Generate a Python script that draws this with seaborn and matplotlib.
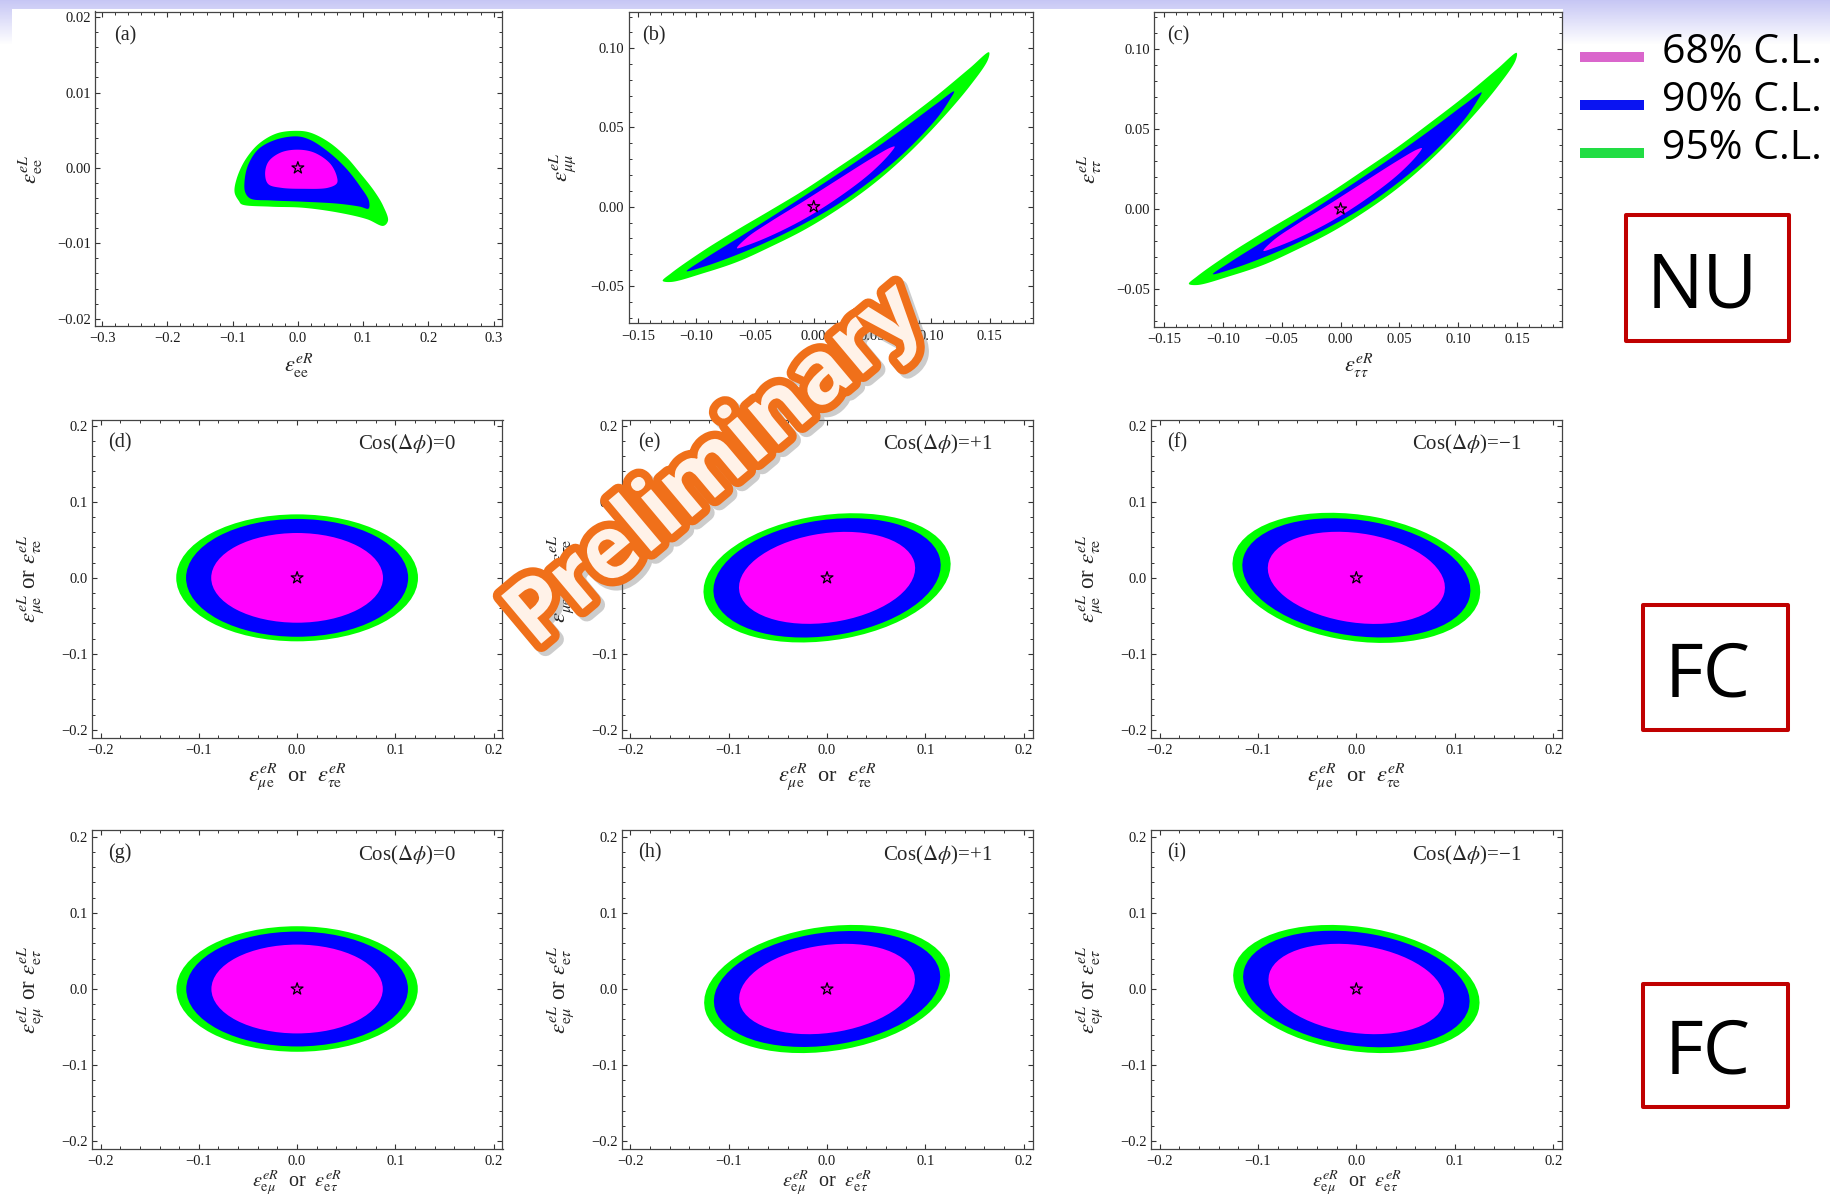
import numpy as np
import matplotlib
matplotlib.use("Agg")
import matplotlib.pyplot as plt
import matplotlib.patheffects as pe
from matplotlib.patches import Ellipse, Rectangle
from matplotlib.ticker import MultipleLocator
import seaborn as sns

W, H = 1831, 1201

# ---------------------------------------------------------------- data
cl_labels = ["68% C.L.", "90% C.L.", "95% C.L."]
legend_swatch = ["#DA66CC", "#0A14F2", "#22DD44"]
# fills, outermost region first
region_colors = ["#00FF00", "#0000FF", "#FF00FF"]

# (a) NU: eps_ee^eR vs eps_ee^eL, closed region boundaries
ee95_x = [-0.0859, -0.0420, 0.0074, 0.0623, 0.1062, 0.1309, 0.1381, 0.1309, 0.1172, 0.0952,
          0.0733, 0.0458, 0.0184, -0.0008, -0.0310, -0.0585, -0.0804, -0.0942, -0.0969, -0.0903]
ee95_y = [-0.00484, -0.00514, -0.00528, -0.00593, -0.00681, -0.00769, -0.00703, -0.00506, -0.00308, -0.00066,
          0.00154, 0.00352, 0.00470, 0.00492, 0.00462, 0.00330, 0.00110, -0.00154, -0.00330, -0.00440]
ee90_x = [-0.0008, -0.0310, -0.0585, -0.0749, -0.0815, -0.0804, -0.0722, -0.0420, 0.0074, 0.0623,
          0.0952, 0.1079, 0.1090, 0.0952, 0.0733, 0.0458, 0.0184]
ee90_y = [0.00418, 0.00382, 0.00264, 0.00066, -0.00154, -0.00330, -0.00409, -0.00431, -0.00448, -0.00475,
          -0.00514, -0.00541, -0.00440, -0.00242, 0.00000, 0.00220, 0.00374]
ee68_x = [-0.0008, -0.0255, -0.0447, -0.0502, -0.0447, -0.0255, 0.0074, 0.0458, 0.0596, 0.0596, 0.0486, 0.0239]
ee68_y = [0.00242, 0.00207, 0.00088, -0.00088, -0.00220, -0.00264, -0.00277, -0.00264, -0.00207, -0.00110,
          0.00066, 0.00207]

# (b), (c) NU: eps_mumu / eps_tautau, the two fits coincide
mm95_x = [-0.1288, -0.1217, -0.0934, -0.0651, -0.0368, -0.0085, 0.0198, 0.0481, 0.0764, 0.1047, 0.1330, 0.1494,
          0.1486, 0.1330, 0.1047, 0.0764, 0.0481, 0.0198, -0.0085, -0.0368, -0.0651, -0.0934, -0.1217]
mm95_y = [-0.0468, -0.0420, -0.0274, -0.0145, -0.0022, 0.0104, 0.0243, 0.0385, 0.0540, 0.0700, 0.0874, 0.0975,
          0.0928, 0.0760, 0.0517, 0.0306, 0.0127, -0.0021, -0.0148, -0.0253, -0.0348, -0.0418, -0.0475]
mm90_x = [-0.1084, -0.0934, -0.0651, -0.0368, -0.0085, 0.0198, 0.0481, 0.0764, 0.1047, 0.1197,
          0.1160, 0.1047, 0.0764, 0.0481, 0.0198, -0.0085, -0.0368, -0.0651, -0.0934]
mm90_y = [-0.0407, -0.0330, -0.0200, -0.0068, 0.0066, 0.0203, 0.0345, 0.0494, 0.0650, 0.0728,
          0.0675, 0.0555, 0.0335, 0.0160, 0.0012, -0.0108, -0.0212, -0.0302, -0.0378]
mm68_x = [-0.0655, -0.0566, -0.0368, -0.0085, 0.0198, 0.0481, 0.0651, 0.0690,
          0.0651, 0.0481, 0.0198, -0.0085, -0.0368, -0.0566]
mm68_y = [-0.0262, -0.0193, -0.0094, 0.0035, 0.0168, 0.0300, 0.0372, 0.0380,
          0.0336, 0.0210, 0.0052, -0.0079, -0.0184, -0.0243]

# FC fits: half extents along x and y of each region (95, 90, 68) and the x-y correlation
cos_dphi_labels = ["0", "+1", "\u22121"]
cos_corr = [0.0, 0.21, -0.21]
row2_half_x = [[0.1230, 0.1130, 0.0874], [0.1256, 0.1155, 0.0895], [0.1259, 0.1159, 0.0900]]
row2_half_y = [[0.0835, 0.0775, 0.0590], [0.0850, 0.0785, 0.0605], [0.0856, 0.0784, 0.0606]]
row3_half_x = [[0.1228, 0.1128, 0.0872], [0.1249, 0.1150, 0.0893], [0.1252, 0.1151, 0.0893]]
row3_half_y = [[0.0824, 0.0754, 0.0583], [0.0841, 0.0761, 0.0593], [0.0841, 0.0765, 0.0593]]

best_fit_x = [0.0]
best_fit_y = [0.0]

# tick values
ee_R_ticks = [-0.3, -0.2, -0.1, 0.0, 0.1, 0.2, 0.3]
ee_L_ticks = [-0.02, -0.01, 0.0, 0.01, 0.02]
diag_R_ticks = [-0.15, -0.10, -0.05, 0.0, 0.05, 0.10, 0.15]
diag_L_ticks = [-0.05, 0.0, 0.05, 0.10]
fc_ticks = [-0.2, -0.1, 0.0, 0.1, 0.2]

# ---------------------------------------------------------------- style
sns.set_theme(style="ticks")
plt.rcParams.update({
    "font.family": ["Liberation Serif", "DejaVu Serif"],
    "mathtext.fontset": "stix",
    "axes.edgecolor": "#444444",
    "axes.linewidth": 0.9,
    "axes.facecolor": "white",
    "figure.facecolor": "white",
    "xtick.color": "#333333",
    "ytick.color": "#333333",
    "xtick.labelcolor": "#1a1a1a",
    "ytick.labelcolor": "#1a1a1a",
})

fig = plt.figure(figsize=(W / 100, H / 100), dpi=100)

# slide header strip (kept beneath every panel)
band_h = 48
rows = np.clip(np.arange(band_h) / 44.0, 0, 1)[:, None, None]
lav = np.array([0.78, 0.78, 0.96])
band = lav * (1 - rows) + rows * np.ones(3)
band = np.repeat(band, W, axis=1)
band[9:, 12:1563, :] = 1.0
fig.figimage(band, xo=0, yo=H - band_h, origin="upper", zorder=-5)


def add_panel(L, R, T, B):
    return fig.add_axes([L / W, 1 - B / H, (R - L) / W, (B - T) / H])


def fmt(vals, nd):
    out = []
    for v in vals:
        s = f"{abs(v):.{nd}f}"
        out.append(("\u2212" if v < -1e-12 else "") + s)
    return out


def style(ax, xlim, ylim, xt, xnd, xminor, yt, ynd, yminor, xlab, ylab, ylab_off,
          xlab_off=25, xlab_size=16):
    ax.set_xlim(*xlim)
    ax.set_ylim(*ylim)
    ax.set_xticks(xt, fmt(xt, xnd))
    ax.set_yticks(yt, fmt(yt, ynd))
    ax.xaxis.set_minor_locator(MultipleLocator(xminor))
    ax.yaxis.set_minor_locator(MultipleLocator(yminor))
    ax.tick_params(which="both", direction="in", top=True, right=True)
    ax.tick_params(which="major", length=3.8, width=0.8, labelsize=10.5)
    ax.tick_params(which="minor", length=2.0, width=0.7)
    ax.tick_params(axis="x", pad=4.5)
    ax.tick_params(axis="y", pad=3)
    for s in ax.spines.values():
        s.set_visible(True)
    ax.set_xlabel(xlab, fontsize=xlab_size)
    ax.set_ylabel(ylab, fontsize=16.5)
    bb = ax.get_position()
    wpx, hpx = bb.width * W, bb.height * H
    ax.xaxis.set_label_coords(0.5, -xlab_off / hpx)
    ax.yaxis.set_label_coords(-ylab_off / wpx, 0.5)


def closed_curve(xs, ys, sx, sy, n=24):
    """Centripetal Catmull-Rom loop through the boundary points."""
    P = np.column_stack([np.asarray(xs) / sx, np.asarray(ys) / sy])
    m = len(P)
    out = []
    for i in range(m):
        p0, p1, p2, p3 = P[(i - 1) % m], P[i], P[(i + 1) % m], P[(i + 2) % m]
        t0 = 0.0
        t1 = t0 + np.linalg.norm(p1 - p0) ** 0.5
        t2 = t1 + np.linalg.norm(p2 - p1) ** 0.5
        t3 = t2 + np.linalg.norm(p3 - p2) ** 0.5
        t = np.linspace(t1, t2, n, endpoint=False)[:, None]
        a1 = (t1 - t) / (t1 - t0) * p0 + (t - t0) / (t1 - t0) * p1
        a2 = (t2 - t) / (t2 - t1) * p1 + (t - t1) / (t2 - t1) * p2
        a3 = (t3 - t) / (t3 - t2) * p2 + (t - t2) / (t3 - t2) * p3
        b1 = (t2 - t) / (t2 - t0) * a1 + (t - t0) / (t2 - t0) * a2
        b2 = (t3 - t) / (t3 - t1) * a2 + (t - t1) / (t3 - t1) * a3
        out.append((t2 - t) / (t2 - t1) * b1 + (t - t1) / (t2 - t1) * b2)
    C = np.vstack(out)
    return C[:, 0] * sx, C[:, 1] * sy


def fill_regions(ax, bounds):
    xl, yl = ax.get_xlim(), ax.get_ylim()
    sx, sy = xl[1] - xl[0], yl[1] - yl[0]
    for (bx, by), col in zip(bounds, region_colors):
        cx, cy = closed_curve(bx, by, sx, sy)
        ax.fill(cx, cy, color=col, lw=0, zorder=2)


def fill_ellipses(ax, hx, hy, rho):
    for sx, sy, col in zip(hx, hy, region_colors):
        cov = np.array([[sx ** 2, rho * sx * sy], [rho * sx * sy, sy ** 2]])
        vals, vecs = np.linalg.eigh(cov)
        k = np.argmax(vals)
        ang = np.degrees(np.arctan2(vecs[1, k], vecs[0, k]))
        ax.add_patch(Ellipse((0, 0), 2 * np.sqrt(vals[k]), 2 * np.sqrt(vals[1 - k]),
                             angle=ang, facecolor=col, edgecolor="none", zorder=2))


def mark_best_fit(ax):
    sns.scatterplot(x=best_fit_x, y=best_fit_y, ax=ax, marker="*", s=80,
                    facecolor="none", edgecolor="black", linewidth=0.9, zorder=5, legend=False)


def panel_tag(ax, tag, x=0.04, y=0.955):
    ax.text(x, y, tag, transform=ax.transAxes, ha="left", va="top", fontsize=14.5)


# ---------------------------------------------------------------- row 1 (NU)
ax_a = add_panel(95, 502.5, 11.5, 326)
style(ax_a, (-0.311, 0.3137), (-0.02097, 0.02075), ee_R_ticks, 1, 0.02, ee_L_ticks, 2, 0.002,
      r"$\varepsilon^{eR}_{\mathrm{ee}}$", r"$\varepsilon^{eL}_{\mathrm{ee}}$", 50)
fill_regions(ax_a, [(ee95_x, ee95_y), (ee90_x, ee90_y), (ee68_x, ee68_y)])
mark_best_fit(ax_a)
panel_tag(ax_a, "(a)", 0.047, 0.953)

ax_b = add_panel(628.5, 1032.5, 11.5, 323.5)
style(ax_b, (-0.158, 0.1866), (-0.0737, 0.1232), diag_R_ticks, 2, 0.01, diag_L_ticks, 2, 0.01,
      r"$\varepsilon^{eR}_{\mu\mu}$", r"$\varepsilon^{eL}_{\mu\mu}$", 50)
fill_regions(ax_b, [(mm95_x, mm95_y), (mm90_x, mm90_y), (mm68_x, mm68_y)])
mark_best_fit(ax_b)
panel_tag(ax_b, "(b)", 0.033, 0.953)

ax_c = add_panel(1154.5, 1562, 11.5, 327)
style(ax_c, (-0.158, 0.188), (-0.0737, 0.1233), diag_R_ticks, 2, 0.01, diag_L_ticks, 2, 0.01,
      r"$\varepsilon^{eR}_{\tau\tau}$", r"$\varepsilon^{eL}_{\tau\tau}$", 50)
fill_regions(ax_c, [(mm95_x, mm95_y), (mm90_x, mm90_y), (mm68_x, mm68_y)])
mark_best_fit(ax_c)
panel_tag(ax_c, "(c)", 0.031, 0.953)

# ---------------------------------------------------------------- rows 2 and 3 (FC)
cols_px = [(92, 502.5), (621.7, 1032.7), (1151, 1562)]
rows_cfg = [
    ((419.5, 737.5), ["(d)", "(e)", "(f)"], row2_half_x, row2_half_y,
     r"$\varepsilon^{eR}_{\mu\mathrm{e}}$  or  $\varepsilon^{eR}_{\tau\mathrm{e}}$",
     r"$\varepsilon^{eL}_{\mu\mathrm{e}}$ or $\varepsilon^{eL}_{\tau\mathrm{e}}$", 23, 16),
    ((830.3, 1149), ["(g)", "(h)", "(i)"], row3_half_x, row3_half_y,
     r"$\varepsilon^{eR}_{\mathrm{e}\mu}$  or  $\varepsilon^{eR}_{\mathrm{e}\tau}$",
     r"$\varepsilon^{eL}_{\mathrm{e}\mu}$ or $\varepsilon^{eL}_{\mathrm{e}\tau}$", 19, 14.5),
]
for (T, B), tags, hx_all, hy_all, xlab, ylab, xoff, xsize in rows_cfg:
    for j, (L, R) in enumerate(cols_px):
        ax = add_panel(L, R, T, B)
        style(ax, (-0.2087, 0.209), (-0.210, 0.2083), fc_ticks, 1, 0.02, fc_ticks, 1, 0.02,
              xlab, ylab, 46, xoff, xsize)
        fill_ellipses(ax, hx_all[j], hy_all[j], cos_corr[j])
        mark_best_fit(ax)
        panel_tag(ax, tags[j], 0.04, 0.958)
        ax.text(0.768, 0.958, r"Cos($\Delta\phi$)=" + cos_dphi_labels[j], transform=ax.transAxes,
                ha="center", va="top", fontsize=15)

# ---------------------------------------------------------------- legend and method boxes
sw_rows = [(51.7, 61.7), (100.0, 110.0), (147.7, 157.7)]
baselines = [63, 111, 159]
for lab, col, (t, b), base in zip(cl_labels, legend_swatch, sw_rows, baselines):
    fig.add_artist(Rectangle((1580 / W, 1 - b / H), 64 / W, (b - t) / H,
                             transform=fig.transFigure, facecolor=col, edgecolor="none"))
    fig.text(1662 / W, 1 - base / H, lab, fontsize=29.5, family="Open Sans",
             ha="left", va="baseline", color="black")

boxes = [(1626, 1789.5, 215, 340.7, "NU", 1702.6, 307),
         (1643, 1788, 605, 730, "FC", 1708, 696.6),
         (1643, 1788, 984, 1107, "FC", 1708, 1074)]
for x0, x1, y0, y1, word, tx, tb in boxes:
    fig.add_artist(Rectangle((x0 / W, 1 - y1 / H), (x1 - x0) / W, (y1 - y0) / H,
                             transform=fig.transFigure, fill=False, edgecolor="#C00000",
                             linewidth=2.9, joinstyle="round"))
    fig.text(tx / W, 1 - tb / H, word, fontsize=54, family="Open Sans",
             ha="center", va="baseline", color="black")

# watermark
fig.text(716 / W, 1 - 467 / H, "Preliminary", fontsize=63, family="Open Sans", fontweight="bold",
         rotation=40, rotation_mode="anchor", ha="center", va="center",
         color="#FFF2E8", zorder=20,
         path_effects=[pe.Stroke(linewidth=12, foreground="#6e6e6e", alpha=0.35, offset=(3, -3)),
                       pe.Stroke(linewidth=12, foreground="#F0701A"),
                       pe.Normal()])

fig.savefig("out.png", dpi=100)
